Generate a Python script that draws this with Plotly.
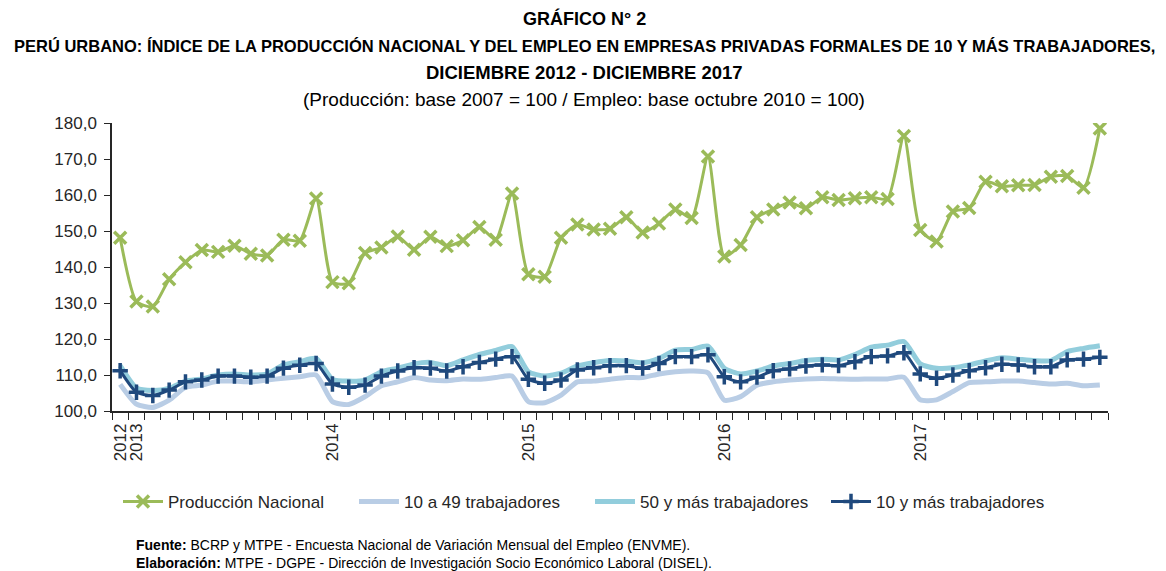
import plotly.graph_objects as go

months = ["dic-12",
          "ene-13","feb-13","mar-13","abr-13","may-13","jun-13","jul-13","ago-13","sep-13","oct-13","nov-13","dic-13",
          "ene-14","feb-14","mar-14","abr-14","may-14","jun-14","jul-14","ago-14","sep-14","oct-14","nov-14","dic-14",
          "ene-15","feb-15","mar-15","abr-15","may-15","jun-15","jul-15","ago-15","sep-15","oct-15","nov-15","dic-15",
          "ene-16","feb-16","mar-16","abr-16","may-16","jun-16","jul-16","ago-16","sep-16","oct-16","nov-16","dic-16",
          "ene-17","feb-17","mar-17","abr-17","may-17","jun-17","jul-17","ago-17","sep-17","oct-17","nov-17","dic-17"]

produccion = [148.1,
              130.4, 129.0, 136.6, 141.3, 144.7, 144.2, 145.9, 143.7, 143.2, 147.6, 147.3, 159.0,
              135.8, 135.5, 143.9, 145.4, 148.5, 144.8, 148.4, 145.8, 147.4, 151.1, 147.6, 160.4,
              138.0, 137.3, 148.1, 151.8, 150.4, 150.6, 153.8, 149.6, 152.1, 156.0, 153.6, 170.7,
              142.9, 146.1, 153.8, 156.0, 157.9, 156.3, 159.4, 158.6, 159.1, 159.4, 158.9, 176.4,
              150.3, 147.1, 155.4, 156.4, 163.7, 162.4, 162.7, 162.8, 165.1, 165.3, 162.0, 178.5]

emp_10_49 = [107.4,
             101.9, 101.0, 103.0, 106.6, 107.2, 108.3, 108.3, 108.1, 108.6, 109.1, 109.5, 110.0,
             102.6, 101.8, 104.0, 107.0, 108.1, 109.3, 108.6, 108.4, 108.9, 108.8, 109.3, 109.7,
             102.6, 102.3, 104.4, 108.1, 108.3, 108.8, 109.3, 109.3, 110.3, 110.9, 111.1, 110.6,
             103.0, 104.0, 107.2, 108.1, 108.6, 108.9, 109.0, 108.9, 108.8, 108.9, 108.9, 109.4,
             103.1, 103.1, 105.4, 107.9, 108.1, 108.3, 108.3, 107.9, 107.5, 107.7, 107.0, 107.2]

emp_50_mas = [112.6,
              106.4, 105.7, 106.3, 108.3, 108.9, 110.0, 110.3, 110.0, 110.3, 112.8, 113.7, 114.6,
              108.8, 108.3, 108.6, 110.9, 111.9, 113.1, 113.5, 112.6, 114.2, 115.7, 116.8, 117.9,
              110.9, 109.7, 110.5, 112.5, 113.4, 114.0, 113.9, 113.4, 114.6, 116.9, 117.1, 118.0,
              111.9, 110.3, 111.1, 112.5, 113.2, 114.0, 114.4, 114.2, 115.7, 117.7, 118.3, 119.3,
              113.1, 111.9, 112.0, 112.8, 113.9, 114.8, 114.4, 114.0, 114.0, 116.5, 117.4, 118.1]

emp_10_mas = [111.2,
              105.2, 104.3, 105.8, 108.1, 108.6, 109.7, 109.7, 109.4, 109.7, 111.9, 112.7, 113.2,
              107.5, 106.6, 107.2, 109.7, 111.1, 112.0, 111.9, 111.1, 112.3, 113.5, 114.4, 115.1,
              108.8, 107.7, 108.6, 111.4, 112.0, 112.6, 112.6, 111.9, 113.2, 115.1, 115.1, 115.6,
              109.5, 108.1, 109.4, 111.2, 111.7, 112.5, 112.8, 112.6, 113.7, 115.1, 115.3, 116.2,
              110.3, 109.1, 110.0, 111.2, 112.0, 113.0, 112.8, 112.3, 112.3, 114.2, 114.4, 114.9]

year_label_months = ["dic-12", "ene-13", "ene-14", "ene-15", "ene-16", "ene-17"]
year_labels = ["2012", "2013", "2014", "2015", "2016", "2017"]

x = list(range(len(months)))
tickpos = [months.index(m) for m in year_label_months]

REG = "Liberation Sans, Arial, sans-serif"
TXT = "#262626"

fig = go.Figure()
fig.add_trace(go.Scatter(x=x, y=produccion, name="Producción Nacional", mode="lines+markers",
                         line=dict(color="#9BBB59", width=3, shape="spline", smoothing=0.6),
                         marker=dict(symbol="x-thin", size=12, line=dict(color="#9BBB59", width=3.5))))
fig.add_trace(go.Scatter(x=x, y=emp_10_49, name="10 a 49 trabajadores", mode="lines",
                         line=dict(color="#B9CDE5", width=5, shape="spline", smoothing=0.6)))
fig.add_trace(go.Scatter(x=x, y=emp_50_mas, name="50 y más trabajadores", mode="lines",
                         line=dict(color="#92CDDC", width=5, shape="spline", smoothing=0.6)))
fig.add_trace(go.Scatter(x=x, y=emp_10_mas, name="10 y más trabajadores", mode="lines+markers",
                         line=dict(color="#1F497D", width=3, shape="spline", smoothing=0.6),
                         marker=dict(symbol="cross-thin", size=11, line=dict(color="#1F497D", width=3.5))))

PL, PT, PW, PH = 112, 123, 996, 288

fig.update_layout(
    width=1166, height=571,
    margin=dict(l=PL, r=1166 - PL - PW, t=PT, b=571 - PT - PH),
    paper_bgcolor="white", plot_bgcolor="white",
    separators=",.",
    showlegend=True,
    legend=dict(orientation="h", x=(118 - PL) / PW, xanchor="left", y=-(502 - 411) / PH, yanchor="middle",
                font=dict(family=REG, size=17, color=TXT),
                entrywidth=181, entrywidthmode="pixels", itemwidth=40,
                bgcolor="rgba(0,0,0,0)"),
    font=dict(family=REG, color=TXT),
)

fig.update_xaxes(range=[-0.5, len(months) - 0.5], tickmode="array", tickvals=tickpos, ticktext=year_labels,
                 tickangle=-90, ticks="", showgrid=False, zeroline=False,
                 showline=True, linecolor=TXT, linewidth=1.5,
                 ticklabelstandoff=4,
                 tickfont=dict(family=REG, size=17, color=TXT),
                 minor=dict(tick0=-0.5, dtick=1, ticks="outside", ticklen=7, tickcolor=TXT, tickwidth=1.2, showgrid=False))
fig.update_yaxes(range=[100, 180], dtick=10, tick0=100, tickformat=".1f", ticks="outside", ticklen=6,
                 tickcolor=TXT, tickwidth=1.2, showgrid=False, zeroline=False,
                 showline=True, linecolor=TXT, linewidth=1.5, ticklabelstandoff=4,
                 tickfont=dict(family=REG, size=17, color=TXT))

def ypaper(ypix):
    return (PT + PH - ypix) / PH

titles = [
    ("<b>GRÁFICO N° 2</b>", 18, 18),
    ("<b>PERÚ URBANO: ÍNDICE DE LA PRODUCCIÓN NACIONAL Y DEL EMPLEO EN EMPRESAS PRIVADAS FORMALES DE 10 Y MÁS TRABAJADORES,</b>", 46, 16.5),
    ("<b>DICIEMBRE 2012 - DICIEMBRE 2017</b>", 72, 18.5),
    ("(Producción: base 2007 = 100 / Empleo: base octubre 2010 = 100)", 99, 19),
]
for txt, ypix, sz in titles:
    fig.add_annotation(text=txt, xref="paper", yref="paper", x=(584 - PL) / PW, xanchor="center",
                       y=ypaper(ypix), yanchor="middle", showarrow=False,
                       font=dict(family=REG, size=sz, color="black"))

fig.add_annotation(text="<b>Fuente:</b> BCRP y MTPE - Encuesta Nacional de Variación Mensual del Empleo (ENVME).",
                   xref="paper", yref="paper", x=(134 - PL) / PW, xanchor="left",
                   y=ypaper(545), yanchor="middle", showarrow=False,
                   font=dict(family=REG, size=14, color="black"))
fig.add_annotation(text="<b>Elaboración:</b> MTPE - DGPE - Dirección de Investigación Socio Económico Laboral (DISEL).",
                   xref="paper", yref="paper", x=(134 - PL) / PW, xanchor="left",
                   y=ypaper(563), yanchor="middle", showarrow=False,
                   font=dict(family=REG, size=14, color="black"))

fig.write_html("out.html", config={"displayModeBar": False},
               post_script="document.body.style.margin='0';document.body.style.padding='0';")
